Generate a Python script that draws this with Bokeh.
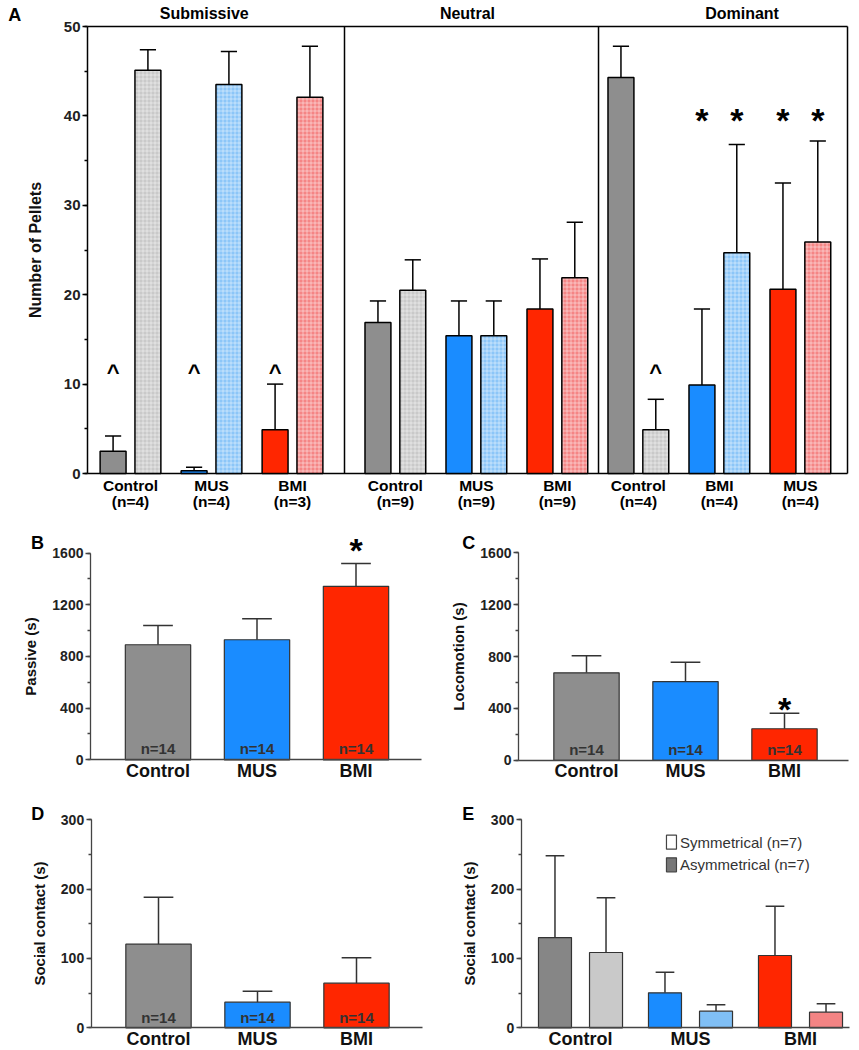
from bokeh.plotting import figure
from bokeh.models import Range1d, Label, ColumnDataSource, SingleIntervalTicker, FixedTicker
from bokeh.layouts import column, row
from bokeh.embed import file_html
from bokeh.resources import INLINE
from bokeh.core.properties import value

FONT = "Liberation Sans"

# ---------------- data ----------------
# Panel A: number of pellets
a_sections = ["Submissive", "Neutral", "Dominant"]
a_groups = ["Control", "MUS", "BMI", "Control", "MUS", "BMI", "Control", "BMI", "MUS"]
a_n = ["(n=4)", "(n=4)", "(n=3)", "(n=9)", "(n=9)", "(n=9)", "(n=4)", "(n=4)", "(n=4)"]
a_solid = [2.5, 0.3, 4.9, 16.9, 15.4, 18.4, 44.3, 9.9, 20.6]
a_solid_err = [1.7, 0.4, 5.1, 2.4, 3.9, 5.6, 3.5, 8.5, 11.9]
a_hatched = [45.1, 43.5, 42.1, 20.5, 15.4, 21.9, 4.9, 24.7, 25.9]
a_hatched_err = [2.3, 3.7, 5.7, 3.4, 3.9, 6.2, 3.4, 12.1, 11.3]
a_family = ["grey", "blue", "red", "grey", "blue", "red", "grey", "blue", "red"]
a_solid_mark = ["^", "^", "^", "", "", "", "", "*", "*"]
a_hatched_mark = ["", "", "", "", "", "", "^", "*", "*"]

# Panels B-D
bcd_groups = ["Control", "MUS", "BMI"]
b_passive = [890, 929, 1342]
b_passive_err = [150, 163, 176]
c_locomotion = [674, 607, 243]
c_locomotion_err = [132, 148, 120]
d_social = [120.6, 36.9, 64.3]
d_social_err = [67.8, 15.9, 36.7]
bcd_n = ["n=14", "n=14", "n=14"]

# Panel E
e_groups = ["Control", "MUS", "BMI"]
e_asym = [130.2, 50.5, 104.3]
e_asym_err = [117.8, 29.7, 71.1]
e_sym = [108.6, 24.0, 22.5]
e_sym_err = [78.9, 9.2, 12.1]
e_legend = ["Symmetrical (n=7)", "Asymmetrical (n=7)"]

# ---------------- styles ----------------
SOLID = {"grey": "#8e8e8e", "blue": "#1a8cff", "red": "#ff2600"}
LIGHT = {"grey": "#c9c9c9", "blue": "#8cc6f8", "red": "#f58585"}
E_DARK = ["#868686", "#1a8cff", "#ff2600"]
E_LIGHT = ["#c9c9c9", "#80bff5", "#f38484"]


def make_fig(width, height, x0_px, x_unit, ytop_px, y0_px, ytop_val):
    """Figure whose frame fills the canvas; ranges derived from pixel geometry."""
    y_unit = (y0_px - ytop_px) / ytop_val
    p = figure(width=width, height=height,
               x_range=Range1d(-x0_px / x_unit, (width - x0_px) / x_unit),
               y_range=Range1d(-(height - y0_px) / y_unit, ytop_val + ytop_px / y_unit),
               output_backend="svg", toolbar_location=None,
               min_border_left=0, min_border_right=0, min_border_top=0, min_border_bottom=0)
    p.grid.visible = False
    p.outline_line_color = None
    return p


def style_yaxis(p, loc, top, interval, label, label_size="15px", tick_size="14px", color="#444444",
                standoff=10, width=1.3):
    ax = p.yaxis[0]
    ax.fixed_location = loc
    ax.bounds = (0, top)
    ax.ticker = SingleIntervalTicker(interval=interval, num_minor_ticks=2)
    ax.axis_line_color = color
    ax.axis_line_width = width
    ax.major_tick_line_color = color
    ax.major_tick_line_width = width
    ax.minor_tick_line_color = color
    ax.minor_tick_line_width = width
    ax.major_tick_in = 0
    ax.major_tick_out = 5
    ax.minor_tick_in = 0
    ax.minor_tick_out = 3
    ax.major_label_standoff = 2
    ax.major_label_text_font = FONT
    ax.major_label_text_font_style = "bold"
    ax.major_label_text_font_size = tick_size
    ax.major_label_text_color = "#222222"
    ax.axis_label = label
    ax.axis_label_text_font = FONT
    ax.axis_label_text_font_style = "bold"
    ax.axis_label_text_font_size = label_size
    ax.axis_label_text_color = "#111111"
    ax.axis_label_standoff = standoff


def style_xaxis(p, lo, hi, labels):
    xa = p.xaxis[0]
    xa.fixed_location = 0
    xa.bounds = (lo, hi)
    xa.ticker = FixedTicker(ticks=[0, 1, 2])
    xa.major_label_overrides = {i: t for i, t in enumerate(labels)}
    xa.major_tick_line_color = None
    xa.minor_tick_line_color = None
    xa.major_tick_in = 0
    xa.major_tick_out = 0
    xa.minor_tick_in = 0
    xa.minor_tick_out = 0
    xa.axis_line_color = "#444444"
    xa.axis_line_width = 1.3
    xa.major_label_standoff = 1
    xa.major_label_text_font = FONT
    xa.major_label_text_font_style = "bold"
    xa.major_label_text_font_size = "18px"
    xa.major_label_text_color = "#111111"


def letter(p, x, y, t):
    p.add_layout(Label(x=x, y=y, text=t, text_font=FONT, text_font_style="bold", text_color="black",
                       text_font_size="18px", text_align="center", text_baseline="middle"))


# ---------------- Panel A ----------------
a_pos = [0, 1, 2, 3.27, 4.27, 5.27, 6.27, 7.27, 8.27]
off = 0.215
bw = 0.32
AX_L, AX_R = -0.531, 8.852
pA = make_fig(859, 518, 130, 81, 26, 473, 50)
pA.xaxis.visible = False
style_yaxis(pA, AX_L, 50, 10, "Number of Pellets", label_size="16px", tick_size="15px", color="black",
            standoff=17, width=1.5)
# frame box and section dividers
pA.segment(x0=[AX_L, AX_L, AX_R, 2.642, 5.778], y0=[0, 50, 0, 0, 0],
           x1=[AX_R, AX_R, AX_R, 2.642, 5.778], y1=[0, 50, 50, 50, 50],
           line_color="black", line_width=1.5)

xs_solid = [x - off for x in a_pos]
xs_hatch = [x + off for x in a_pos]
cap = 0.1
for xs, vals, errs in ((xs_solid, a_solid, a_solid_err), (xs_hatch, a_hatched, a_hatched_err)):
    tops = [v + e for v, e in zip(vals, errs)]
    pA.segment(x0=xs, y0=vals, x1=xs, y1=tops, line_color="black", line_width=1.5)
    pA.segment(x0=[x - cap for x in xs], y0=tops, x1=[x + cap for x in xs], y1=tops,
               line_color="black", line_width=1.5)

pA.vbar(x=xs_solid, top=a_solid, bottom=0, width=bw,
        fill_color=[SOLID[f] for f in a_family], line_color="black", line_width=1.5)
pA.vbar(x=xs_hatch, top=a_hatched, bottom=0, width=bw,
        fill_color=[LIGHT[f] for f in a_family], line_color="black", line_width=1.5,
        hatch_pattern="+", hatch_scale=4, hatch_color="white", hatch_alpha=0.45, hatch_weight=1)

# significance marks
car_x, star_x = [], []
for xs, marks in ((xs_solid, a_solid_mark), (xs_hatch, a_hatched_mark)):
    for x, m in zip(xs, marks):
        if m == "^":
            car_x.append(x)
        elif m == "*":
            star_x.append(x)
pA.text(x=car_x, y=[11.3] * len(car_x), text=["^"] * len(car_x), text_font=value(FONT),
        text_font_style="bold", text_font_size="22px", text_align="center", text_baseline="middle",
        text_color="black")
pA.text(x=star_x, y=[39.5] * len(star_x), text=["*"] * len(star_x), text_font=value(FONT),
        text_font_style="bold", text_font_size="34px", text_align="center", text_baseline="middle",
        text_color="black")

cat_src = ColumnDataSource(dict(x=a_pos, g=a_groups, n=a_n, y1=[-1.3] * 9, y2=[-3.15] * 9))
pA.text(x="x", y="y1", text="g", source=cat_src, text_font=value(FONT), text_font_style="bold",
        text_font_size="15.5px", text_align="center", text_baseline="middle", text_color="black")
pA.text(x="x", y="y2", text="n", source=cat_src, text_font=value(FONT), text_font_style="bold",
        text_font_size="15.5px", text_align="center", text_baseline="middle", text_color="black")
sec_src = ColumnDataSource(dict(x=[0.91, 4.16, 7.55], y=[51.4] * 3, t=a_sections))
pA.text(x="x", y="y", text="t", source=sec_src, text_font=value(FONT), text_font_style="bold",
        text_font_size="16px", text_align="center", text_baseline="middle", text_color="black")
letter(pA, -1.43, 51.25, "A")


# ---------------- Panels B, C, D ----------------
def simple_panel(p, vals, errs, ylabel, yend, interval, ax_l, ax_r, n_y, star_y):
    style_yaxis(p, ax_l, yend, interval, ylabel)
    style_xaxis(p, ax_l, ax_r, bcd_groups)
    xs = [0, 1, 2]
    tops = [v + e for v, e in zip(vals, errs)]
    cap = 0.15
    p.segment(x0=xs, y0=vals, x1=xs, y1=tops, line_color="#333333", line_width=1.5)
    p.segment(x0=[x - cap for x in xs], y0=tops, x1=[x + cap for x in xs], y1=tops,
              line_color="#333333", line_width=1.5)
    p.vbar(x=xs, top=vals, bottom=0, width=0.66, fill_color=[SOLID["grey"], SOLID["blue"], SOLID["red"]],
           line_color="#333333", line_width=1.2)
    p.text(x=xs, y=[n_y] * 3, text=bcd_n, text_font=value(FONT), text_font_style="bold",
           text_font_size="15px", text_align="center", text_baseline="middle", text_color="#333333")
    if star_y is not None:
        p.text(x=[2], y=[star_y], text=["*"], text_font=value(FONT), text_font_style="bold",
               text_font_size="34px", text_align="center", text_baseline="middle", text_color="black")
    return p


pB = make_fig(430, 264, 157.5, 99, 34.5, 241.3, 1600)
simple_panel(pB, b_passive, b_passive_err, "Passive (s)", 1600, 400, -0.682, 2.662, 85, 1625)
letter(pB, -1.217, 1675, "B")

pC = make_fig(429, 264, 156, 99, 34.2, 241.8, 1600)
simple_panel(pC, c_locomotion, c_locomotion_err, "Locomotion (s)", 1600, 400, -0.687, 2.646, 85, 392)
letter(pC, -1.19, 1675, "C")

pD = make_fig(430, 268, 158, 99, 37.3, 245.3, 300)
simple_panel(pD, d_social, d_social_err, "Social contact (s)", 300, 100, -0.680, 2.667, 15.3, None)
letter(pD, -1.22, 309, "D")

# ---------------- Panel E ----------------
pE = make_fig(429, 268, 150, 110, 37.3, 245.3, 300)
style_yaxis(pE, -0.539, 300, 100, "Social contact (s)")
style_xaxis(pE, -0.539, 2.445, e_groups)

eoff = 0.232
ecap = 0.085
for sign, vals, errs, cols in ((-1, e_asym, e_asym_err, E_DARK), (1, e_sym, e_sym_err, E_LIGHT)):
    xs = [i + sign * eoff for i in range(3)]
    tops = [v + e for v, e in zip(vals, errs)]
    pE.segment(x0=xs, y0=vals, x1=xs, y1=tops, line_color="#333333", line_width=1.5)
    pE.segment(x0=[x - ecap for x in xs], y0=tops, x1=[x + ecap for x in xs], y1=tops,
               line_color="#333333", line_width=1.5)
    pE.vbar(x=xs, top=vals, bottom=0, width=0.3, fill_color=cols, line_color="#333333", line_width=1.2)

pE.rect(x=[0.827, 0.827], y=[267.7, 235.0], width=10, height=14, width_units="screen",
        height_units="screen", fill_color=["white", "#777777"], line_color="#444444", line_width=1.2)
pE.text(x=[0.905, 0.905], y=[267.7, 235.0], text=e_legend, text_font=value(FONT),
        text_font_size="15px", text_align="left", text_baseline="middle", text_color="#333333")
letter(pE, -1.02, 309, "E")

layout = column(pA, row(pB, pC), row(pD, pE))
open("out.html", "w").write(file_html(layout, INLINE))
